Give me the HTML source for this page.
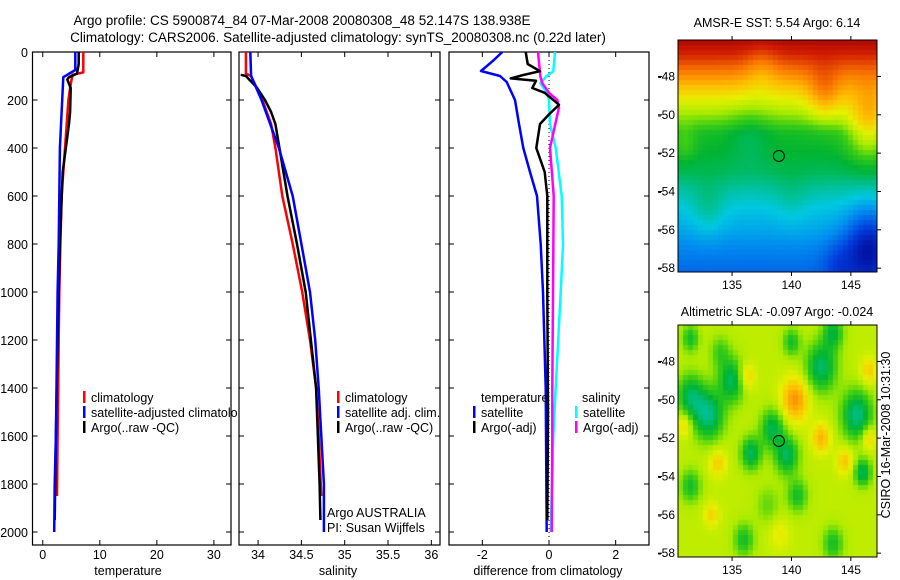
<!DOCTYPE html>
<html><head><meta charset="utf-8">
<style>
html,body{margin:0;padding:0;background:#fff;}
#wrap{position:relative;width:900px;height:580px;overflow:hidden;font-family:"Liberation Sans",sans-serif;}
svg{position:absolute;left:0;top:0;}
canvas{position:absolute;}
</style></head>
<body>
<div id="wrap">
<canvas id="sst" width="199" height="232" style="left:678px;top:40px"></canvas>
<canvas id="sla" width="199" height="232" style="left:678px;top:325px"></canvas>
<svg id="fig" width="900" height="580" viewBox="0 0 900 580" font-family="Liberation Sans, sans-serif" font-size="12.5">
<text x="302" y="25" text-anchor="middle" font-size="13.5">Argo profile: CS 5900874_84 07-Mar-2008 20080308_48 52.147S 138.938E</text>
<text x="338" y="42" text-anchor="middle" font-size="13.5">Climatology: CARS2006. Satellite-adjusted climatology: synTS_20080308.nc (0.22d later)</text>
<g id="plots"></g>
<text x="128" y="575" text-anchor="middle">temperature</text>
<text x="338" y="575" text-anchor="middle">salinity</text>
<text x="548" y="575" text-anchor="middle">difference from climatology</text>
<text x="327" y="517">Argo AUSTRALIA</text>
<text x="327" y="532">PI: Susan Wijffels</text>
<text x="777" y="27" text-anchor="middle">AMSR-E SST: 5.54 Argo: 6.14</text>
<text x="777" y="316" text-anchor="middle">Altimetric SLA: -0.097 Argo: -0.024</text>
<text transform="translate(890,435) rotate(-90)" text-anchor="middle">CSIRO 16-Mar-2008 10:31:30</text>
</svg>
</div>
<script>
// ---- profile data (depth in m) ----
const tempClimDepth=[0,85,95,150,200,300,400,600,800,1000,1200,1400,1600,1850];
const tempClim=[7.1,7.1,5.2,4.8,4.5,4.2,3.9,3.3,3.1,2.9,2.8,2.7,2.6,2.5];
const tempSatDepth=[0,75,105,200,400,600,800,1000,1400,1600,1800,2000];
const tempSat=[5.7,5.7,3.6,3.4,3.0,2.9,2.8,2.6,2.4,2.3,2.1,2.0];
const tempArgoDepth=[0,50,90,105,115,150,250,300,500,800,1200,1600,1950];
const tempArgo=[6.3,6.3,6.0,4.6,4.3,4.9,4.8,4.6,3.5,3.0,2.6,2.3,2.1];
const salClimDepth=[0,90,100,200,300,400,600,800,1000,1200,1400,1600,1850];
const salClim=[33.86,33.86,33.92,34.05,34.15,34.2,34.28,34.4,34.51,34.6,34.67,34.7,34.73];
const salSatDepth=[0,100,200,400,600,800,1000,1200,1400,1800,2000];
const salSat=[33.91,33.92,34.04,34.24,34.4,34.5,34.6,34.66,34.7,34.76,34.76];
const salArgoDepth=[95,100,150,200,250,300,600,800,1000,1400,1800,1950];
const salArgo=[33.8,33.86,33.99,34.08,34.15,34.2,34.34,34.45,34.55,34.67,34.71,34.72];
const dTempSatDepth=[0,33,79,100,125,200,300,400,500,600,800,1000,1400,2000];
const dTempSat=[-1.4,-1.65,-2.04,-1.47,-1.27,-1.02,-0.9,-0.77,-0.57,-0.36,-0.25,-0.18,-0.1,-0.07];
const dTempArgoDepth=[0,50,80,96,110,120,150,170,220,260,300,400,500,600,1000,1500,1950];
const dTempArgo=[-0.7,-0.64,-0.27,-0.77,-1.15,-0.39,-0.5,-0.13,0.3,0,-0.27,-0.38,-0.13,-0.05,-0.05,-0.03,-0.05];
const dSalSatDepth=[0,80,100,130,170,200,300,400,600,800,1000,1400,1600,2000];
const dSalSat=[0.18,0.13,-0.07,-0.26,-0.07,0,0.03,0.2,0.38,0.42,0.35,0.2,0.13,0.05];
const dSalArgoDepth=[0,100,130,170,200,230,300,400,600,1000,1400,1600,2000];
const dSalArgo=[-0.33,-0.26,-0.2,0,0.25,0.3,0.19,0.03,0.14,0.12,0.1,0.1,0.08];
const depthTicks=[0,200,400,600,800,1000,1200,1400,1600,1800,2000];
const tempTicks=[0,10,20,30];
const salTicks=[34,34.5,35,35.5,36];
const salTickLabels=["34","34.5","35","35.5","36"];
const diffTicks=[-2,0,2];
const diffTickLabels=["-2","0","2"];

const NS="http://www.w3.org/2000/svg";
const plots=document.getElementById('plots');
function mk(tag,attrs,parent){const e=document.createElementNS(NS,tag);for(const k in attrs)e.setAttribute(k,attrs[k]);(parent||plots).appendChild(e);return e;}
const TOP=52,BOT=545;
function yD(d){return TOP+d*0.24;}

const panels=[
 {name:'temperature',x0:32.5,x1:231,lo:-1.8,hi:33,ticks:tempTicks,labels:tempTicks.map(String)},
 {name:'salinity',x0:239,x1:440,lo:33.78,hi:36.1,ticks:salTicks,labels:salTickLabels},
 {name:'difference',x0:449,x1:649,lo:-3,hi:3,ticks:diffTicks,labels:diffTickLabels}
];
panels.forEach(p=>{p.x=v=>p.x0+(v-p.lo)/(p.hi-p.lo)*(p.x1-p.x0);});

panels.forEach((p,i)=>{
  const g=mk('g',{});
  
  
  const r=mk('rect',{x:p.x0,y:TOP,width:p.x1-p.x0,height:BOT-TOP,fill:'#fff',stroke:'#000','stroke-width':1.2},g);
  
  
  depthTicks.forEach(d=>{
    const y=yD(d);
    mk('line',{x1:p.x0,x2:p.x0+5,y1:y,y2:y,stroke:'#000'},g);
    mk('line',{x1:p.x1,x2:p.x1-5,y1:y,y2:y,stroke:'#000'},g);
    if(i===0){const t=mk('text',{x:28,y:y+5,'text-anchor':'end'},g);t.textContent=d;
      
      }
  });
  p.ticks.forEach((v,j)=>{
    const x=p.x(v);
    mk('line',{x1:x,x2:x,y1:BOT,y2:BOT-5,stroke:'#000'},g);
    mk('line',{x1:x,x2:x,y1:TOP,y2:TOP+5,stroke:'#000'},g);
    const t=mk('text',{x:x,y:559,'text-anchor':'middle'},g);t.textContent=p.labels[j];
    
    
  });
});
const zl=mk('line',{x1:panels[2].x(0),x2:panels[2].x(0),y1:TOP,y2:BOT,stroke:'#000','stroke-dasharray':'1,3'});



function series(p,depths,vals,color,name){
  const pts=depths.map((d,k)=>p.x(vals[k]).toFixed(1)+','+yD(d).toFixed(1)).join(' ');
  const l=mk('polyline',{points:pts,fill:'none',stroke:color,'stroke-width':2.5,'stroke-linejoin':'round'});
  
  
}
series(panels[0],tempClimDepth,tempClim,'#ff0000','temp-climatology-line');
series(panels[0],tempArgoDepth,tempArgo,'#000','temp-argo-line');
series(panels[0],tempSatDepth,tempSat,'#0000ff','temp-satellite-line');
series(panels[1],salClimDepth,salClim,'#ff0000','sal-climatology-line');
series(panels[1],salArgoDepth,salArgo,'#000','sal-argo-line');
series(panels[1],salSatDepth,salSat,'#0000ff','sal-satellite-line');
series(panels[2],dTempSatDepth,dTempSat,'#0000ff','diff-temp-satellite-line');
series(panels[2],dSalSatDepth,dSalSat,'#00ffff','diff-sal-satellite-line');
series(panels[2],dSalArgoDepth,dSalArgo,'#ff00ff','diff-sal-argo-line');
series(panels[2],dTempArgoDepth,dTempArgo,'#000','diff-temp-argo-line');

function legend(x,y,color,label,clip){
  const g=mk('g',{});
  
  
  if(color) mk('rect',{x:x,y:y-11,width:2.5,height:12,fill:color},g);
  const t=mk('text',{x:x+8,y:y},g);t.textContent=label;
  if(clip) t.setAttribute('clip-path','url(#c1)');
}
const defs=mk('defs',{});
const cp=mk('clipPath',{id:'c1'},defs);mk('rect',{x:0,y:0,width:238,height:580},cp);
legend(83,402,'#ff0000','climatology');
legend(83,417,'#0000ff','satellite-adjusted climatology',true);
legend(83,432,'#000','Argo(..raw -QC)');
legend(337,402,'#ff0000','climatology');
legend(337,417,'#0000ff','satellite adj. clim.');
legend(337,432,'#000','Argo(..raw -QC)');
(function(){const t=mk('text',{x:481,y:402});t.textContent='temperature';
 
 
 const s=mk('text',{x:582,y:402});s.textContent='salinity';
 
 })();
legend(473,417,'#0000ff','satellite');
legend(473,432,'#000','Argo(-adj)');
legend(575,417,'#00ffff','satellite');
legend(575,432,'#ff00ff','Argo(-adj)');

// ---- map axes ----
const latTicks=[-48,-50,-52,-54,-56,-58];
const lonTicks=[135,140,145];
const MX0=678,MX1=877,LON0=130.45,LON1=147.2,LAT0=-46.1,LAT1=-58.2;
function mx(lon){return MX0+(lon-LON0)/(LON1-LON0)*(MX1-MX0);}
[{top:40,name:'sst'},{top:325,name:'sla'}].forEach(m=>{
  const H=232, my=lat=>m.top+(lat-LAT0)/(LAT1-LAT0)*H;
  const g=mk('g',{});
  
  
  mk('rect',{x:MX0,y:m.top,width:MX1-MX0,height:H,fill:'none',stroke:'#000','stroke-width':1},g);
  latTicks.forEach(l=>{const y=my(l);
    mk('line',{x1:MX1,x2:MX1+4,y1:y,y2:y,stroke:'#000'},g);
    mk('line',{x1:MX0-20,x2:MX0-16,y1:y,y2:y,stroke:'#000'},g);
    const t=mk('text',{x:MX0-3,y:y+4,'text-anchor':'end','font-size':12},g);t.textContent=l;
    
    });
  lonTicks.forEach(l=>{const x=mx(l);
    mk('line',{x1:x,x2:x,y1:m.top,y2:m.top-4,stroke:'#000'},g);
    mk('line',{x1:x,x2:x,y1:m.top+H,y2:m.top+H+4,stroke:'#000'},g);
    const t=mk('text',{x:x,y:m.top+H+17,'text-anchor':'middle','font-size':12},g);t.textContent=l;
    
    });
  const c=mk('circle',{cx:mx(138.938),cy:my(-52.147),r:5.5,fill:'none',stroke:'#000','stroke-width':1},g);
  
  
});

// ---- map fields ----
const cmapStops=[[0,0,0,140],[0.15,0,60,220],[0.28,0,140,240],[0.37,0,200,225],[0.44,0,190,130],[0.5,0,180,50],[0.56,60,205,20],[0.62,170,235,0],[0.68,230,240,0],[0.75,255,190,0],[0.83,250,120,0],[0.92,210,30,0],[1,160,0,0]];
function cmap(v){v=Math.max(0,Math.min(1,v));for(let i=1;i<cmapStops.length;i++){const a=cmapStops[i-1],b=cmapStops[i];if(v<=b[0]){const f=(v-a[0])/(b[0]-a[0]);return 'rgb('+[1,2,3].map(k=>Math.round(a[k]+f*(b[k]-a[k]))).join(',')+')';}}return 'rgb(160,0,0)';}
const sstLat=[-46.1,-47,-48,-49,-50,-51,-52,-53,-54,-55,-56,-57,-58.2];
const sstBase=[0.98,0.9,0.8,0.7,0.61,0.52,0.5,0.47,0.41,0.36,0.32,0.27,0.22];
const sstBlobs=[[146.5,-50.5,0.16,1.3],[142.8,-49,0.1,1.0],[137.5,-47.5,-0.05,1.0],[146.5,-56.8,-0.22,1.3],[144,-57.8,-0.08,1.0],[133,-55,0.06,1.0],[136.5,-51,-0.04,1.2],[140,-54.5,0.03,1.0],[131,-51.5,0.05,0.7]];
const slaBlobs=[[131.5,-49.8,-0.16,0.8],[133,-50.8,-0.2,0.9],[135,-49,-0.17,0.8],[136.6,-52.8,-0.17,0.6],[138.4,-51.5,-0.16,0.7],[139.6,-52.9,-0.17,0.7],[140.5,-55,-0.12,0.6],[142.5,-48.3,-0.18,0.9],[145.5,-50.8,-0.2,0.9],[146,-53.8,-0.17,0.5],[131.5,-54.5,-0.12,0.6],[140,-47,-0.12,0.5],[143.5,-46.5,-0.14,0.6],[143.5,-57.5,-0.12,0.6],[136,-57.3,-0.12,0.6],[131.5,-46.8,-0.12,0.5],[134,-47.5,-0.08,0.6],[138,-55.5,-0.06,0.7],
 [140.3,-50,0.16,0.8],[136.2,-48.8,0.11,0.5],[142.5,-52,0.12,0.55],[144.5,-53.2,0.1,0.5],[133.8,-53.3,0.09,0.5],[146.5,-52,0.1,0.45],[131,-51.3,0.09,0.45],[146.5,-48.5,0.09,0.5],[133.3,-56,0.08,0.45],[139,-57,0.05,0.6]];
function interp(xs,ys,x){if(x>=xs[0])return ys[0];for(let i=1;i<xs.length;i++){if(x>=xs[i]){const f=(x-xs[i-1])/(xs[i]-xs[i-1]);return ys[i-1]+f*(ys[i]-ys[i-1]);}}return ys[ys.length-1];}
function blobSum(bl,lon,lat){let s=0;bl.forEach(b=>{const dx=lon-b[0],dy=lat-b[1];s+=b[2]*Math.exp(-(dx*dx+dy*dy)/(2*b[3]*b[3]));});return s;}
function drawMap(id,fn){const ctx=document.getElementById(id).getContext('2d');const cs=5;
  for(let px=0;px<199;px+=cs)for(let py=0;py<232;py+=cs){
    const lon=LON0+(px+cs/2)/199*(LON1-LON0),lat=LAT0+(py+cs/2)/232*(LAT1-LAT0);
    ctx.fillStyle=cmap(fn(lon,lat));ctx.fillRect(px,py,cs,cs);}}
drawMap('sst',(lon,lat)=>interp(sstLat,sstBase,lat)+blobSum(sstBlobs,lon,lat));
drawMap('sla',(lon,lat)=>0.64+blobSum(slaBlobs,lon,lat));
</script>
</body></html>
